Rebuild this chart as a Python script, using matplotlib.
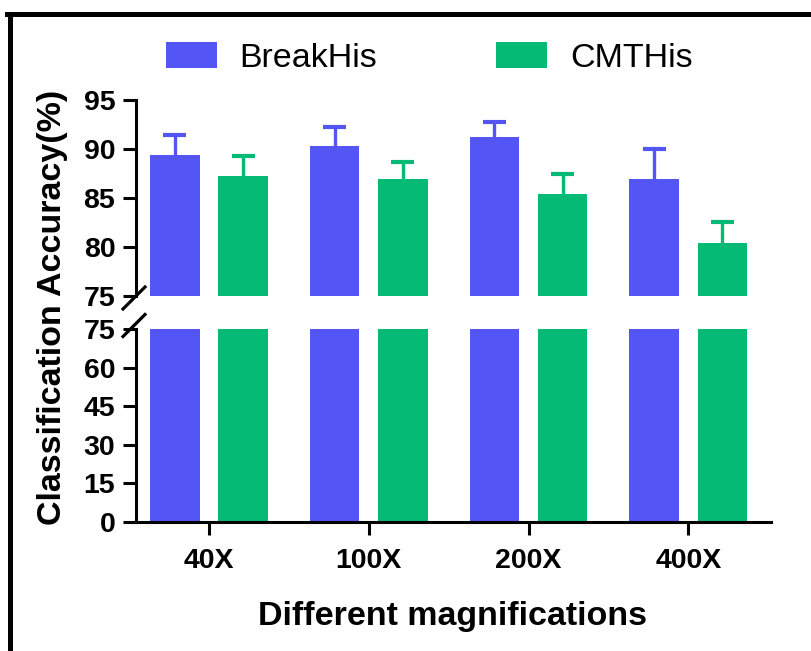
import matplotlib
matplotlib.use("Agg")
import matplotlib.pyplot as plt
from matplotlib.patches import Patch
from matplotlib.lines import Line2D
import numpy as np

plt.rcParams['font.family'] = ['Liberation Sans', 'DejaVu Sans']

# Data
magnifications = ["40X", "100X", "200X", "400X"]
breakhis_acc = [89.4, 90.3, 91.2, 86.9]
breakhis_err = [2.0, 1.9, 1.6, 3.1]
cmthis_acc = [87.2, 86.9, 85.4, 80.4]
cmthis_err = [2.1, 1.8, 2.0, 2.1]
series_names = ["BreakHis", "CMTHis"]
top_ticks = [75, 80, 85, 90, 95]
bottom_ticks = [0, 15, 30, 45, 60, 75]

BLUE = "#5356F4"
GREEN = "#04BA74"

W, H = 811, 651
fig = plt.figure(figsize=(W / 100, H / 100), dpi=100)


def fx(px):
    return px / W


def fy(py):
    return 1 - py / H


ax_top = fig.add_axes([fx(136), fy(296), fx(771) - fx(136), fy(100) - fy(296)])
ax_bot = fig.add_axes([fx(136), fy(522), fx(771) - fx(136), fy(329) - fy(522)])

x = np.arange(len(magnifications))
width = 0.31
offset = 0.213
cap_half = 0.072
lw = 2.2
tick_fs = 20.5

for ax in (ax_top, ax_bot):
    ax.bar(x - offset, breakhis_acc, width, color=BLUE, zorder=2)
    ax.bar(x + offset, cmthis_acc, width, color=GREEN, zorder=2)
    ax.set_xlim(-0.457, 3.518)
    for s in ("top", "right"):
        ax.spines[s].set_visible(False)
    ax.spines["left"].set_linewidth(lw)
    ax.spines["bottom"].set_linewidth(lw)
    ax.tick_params(axis="y", width=lw, length=9.4, pad=5.5)

# Upper-only error bars on the zoomed panel
for xs, acc, err, col in ((x - offset, breakhis_acc, breakhis_err, BLUE),
                          (x + offset, cmthis_acc, cmthis_err, GREEN)):
    acc = np.asarray(acc)
    top = acc + np.asarray(err)
    ax_top.vlines(xs, acc, top, color=col, lw=2.4, zorder=1)
    ax_top.hlines(top, xs - cap_half, xs + cap_half, color=col, lw=3, zorder=1)

ax_top.set_ylim(75, 95)
ax_top.set_yticks(top_ticks)
ax_top.set_yticklabels([str(t) for t in top_ticks], fontweight="bold", fontsize=tick_fs)
ax_top.spines["bottom"].set_visible(False)
ax_top.set_xticks([])

ax_bot.set_ylim(0, 75)
ax_bot.set_yticks(bottom_ticks)
ax_bot.set_yticklabels([str(t) for t in bottom_ticks], fontweight="bold", fontsize=tick_fs)
ax_bot.set_xticks(x)
ax_bot.set_xticklabels(magnifications, fontweight="bold", fontsize=tick_fs)
ax_bot.tick_params(axis="x", width=lw, length=9.4, pad=9)

# Axis break marks
for cy in (298, 325.5):
    fig.add_artist(Line2D([fx(123), fx(145)], [fy(cy + 11), fy(cy - 11)],
                          transform=fig.transFigure, color="black", lw=2.3))

# Axis titles
fig.text(fx(53), fy(307), "Classification Accuracy(%)", rotation=90,
         ha="center", va="center", fontsize=24.5, fontweight="bold")
fig.text(fx(453), fy(616), "Different magnifications",
         ha="center", va="center", fontsize=24.5, fontweight="bold")

# Legend
handles = [Patch(facecolor=BLUE, edgecolor="none"),
           Patch(facecolor=GREEN, edgecolor="none")]
fig.legend(handles, series_names, loc="upper left",
           bbox_to_anchor=(fx(166), fy(42)), ncol=2, frameon=False,
           fontsize=24.5, handlelength=1.5, handleheight=0.78,
           handletextpad=0.66, columnspacing=3.5, borderpad=0,
           borderaxespad=0)

# Outer frame
fig.add_artist(Line2D([fx(9.5), fx(9.5)], [fy(13.5), fy(H + 5)],
                      transform=fig.transFigure, color="black", lw=3.6))
fig.add_artist(Line2D([fx(7), fx(W + 5)], [fy(13.5), fy(13.5)],
                      transform=fig.transFigure, color="black", lw=3.6))

fig.savefig("out.png", dpi=100)
